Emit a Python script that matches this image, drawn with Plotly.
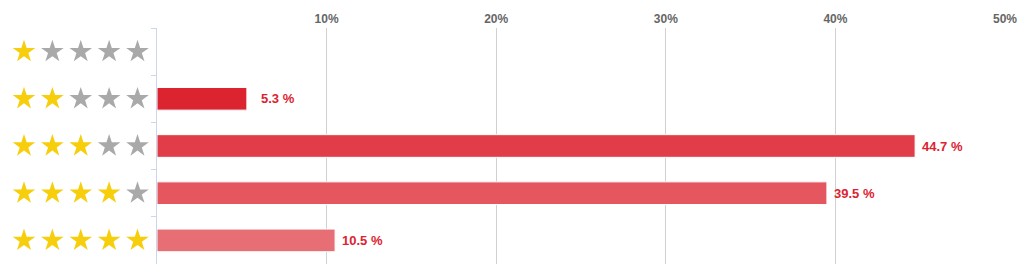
import plotly.graph_objects as go

# ---- data ----
ratings = [1, 2, 3, 4, 5]
categories = ["1 star", "2 stars", "3 stars", "4 stars", "5 stars"]
percentages = [0, 5.3, 44.7, 39.5, 10.5]
bar_colors = ["#DC2330", "#DC2330", "#E03D48", "#E4575F", "#E86E75"]
tick_values = [10, 20, 30, 40, 50]
tick_labels = ["10%", "20%", "30%", "40%", "50%"]

W, H = 1024, 278
PLOT_RIGHT = 19
AXIS_X = 157
plot_w = W - PLOT_RIGHT
split = AXIS_X / plot_w

fig = go.Figure()

# bars
fig.add_trace(go.Bar(
    x=percentages, y=categories, orientation="h",
    marker=dict(color=bar_colors, line=dict(color="#FFFFFF", width=1)),
    hoverinfo="skip", showlegend=False,
    xaxis="x", yaxis="y",
))

# star ratings (left side)
star_x, star_y, star_c = [], [], []
for cat, r in zip(categories, ratings):
    for k in range(1, 6):
        star_x.append(k)
        star_y.append(cat)
        star_c.append("#F7CE0B" if k <= r else "#A9A9A9")
fig.add_trace(go.Scatter(
    x=star_x, y=star_y, mode="markers",
    marker=dict(symbol="star", size=17, color=star_c, line=dict(width=0)),
    hoverinfo="skip", showlegend=False, cliponaxis=False,
    xaxis="x2", yaxis="y",
))

# value labels
for cat, v in zip(categories, percentages):
    if v > 0:
        fig.add_annotation(
            x=v, y=cat, xref="x", yref="y", text=f"<b>{v} %</b>",
            showarrow=False, xanchor="right", xshift=50,
            font=dict(family="Arial, Liberation Sans, sans-serif", size=13, color="#DC2330"),
        )

fig.update_layout(
    width=W, height=H,
    margin=dict(l=0, r=PLOT_RIGHT, t=28, b=14),
    paper_bgcolor="white", plot_bgcolor="white",
    bargap=0.52,
    xaxis=dict(
        domain=[split, 1], range=[0, 50], side="top",
        tickvals=tick_values, ticktext=[f"<b>{t}</b>" for t in tick_labels],
        tickfont=dict(family="Arial, Liberation Sans, sans-serif", size=12, color="#666666"),
        ticklabelstandoff=2,
        showgrid=True, gridcolor="#D0D0D0", gridwidth=1,
        zeroline=False, showline=False, ticks="", fixedrange=True,
        anchor="y",
    ),
    xaxis2=dict(
        domain=[0, split], range=[1 - 24 / 28.375, 1 + 133 / 28.375],
        visible=False, fixedrange=True, anchor="y",
    ),
    yaxis=dict(
        categoryorder="array", categoryarray=categories, autorange="reversed",
        showticklabels=False, showgrid=False, zeroline=False,
        showline=True, linecolor="#CCD6EB", linewidth=1,
        ticks="outside", tickson="boundaries", ticklen=5, tickcolor="#CCD6EB",
        anchor="x", fixedrange=True,
    ),
)

fig.write_html("out.html")
